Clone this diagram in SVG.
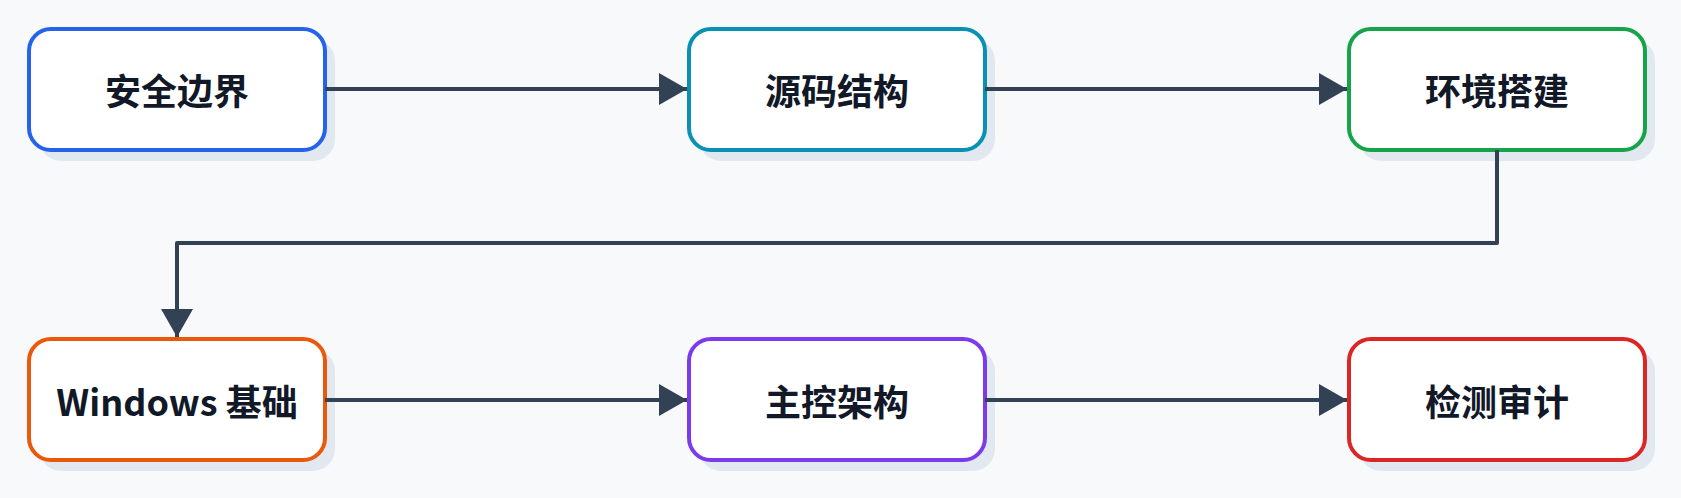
<svg xmlns="http://www.w3.org/2000/svg" width="1681" height="498" viewBox="0 0 1681 498">
<style>
.sh{fill:#e2e8f0}
.bx{fill:#fff;stroke-width:4}
.t{font-family:"Noto Sans CJK SC","Noto Sans",sans-serif;font-weight:bold;font-size:36px;fill:#111827;text-anchor:middle;dominant-baseline:central}
.c{fill:none;stroke:#334155;stroke-width:4;stroke-linejoin:round}
</style>
<defs>
<marker id="a" markerWidth="8" markerHeight="8" refX="7" refY="4" orient="auto" markerUnits="strokeWidth"><path d="M0,0L7,4L0,8Z" fill="#334155"/></marker>
</defs>
<rect width="1681" height="498" fill="#f8f9fb"/>
<g id="n1"><rect class="sh" x="39" y="39" width="296" height="122" rx="22"/><rect class="bx" x="29" y="29" width="296" height="121" rx="22" stroke="#2563eb"/><text class="t" x="177" y="89">安全边界</text></g>
<g id="n2"><rect class="sh" x="699" y="39" width="296" height="122" rx="22"/><rect class="bx" x="689" y="29" width="296" height="121" rx="22" stroke="#0891b2"/><text class="t" x="837" y="89">源码结构</text></g>
<g id="n3"><rect class="sh" x="1359" y="39" width="296" height="122" rx="22"/><rect class="bx" x="1349" y="29" width="296" height="121" rx="22" stroke="#16a34a"/><text class="t" x="1497" y="89">环境搭建</text></g>
<g id="n4"><rect class="sh" x="39" y="349" width="296" height="122" rx="22"/><rect class="bx" x="29" y="339" width="296" height="121" rx="22" stroke="#ea580c"/><text class="t" x="177" y="400">Windows 基础</text></g>
<g id="n5"><rect class="sh" x="699" y="349" width="296" height="122" rx="22"/><rect class="bx" x="689" y="339" width="296" height="121" rx="22" stroke="#7c3aed"/><text class="t" x="837" y="400">主控架构</text></g>
<g id="n6"><rect class="sh" x="1359" y="349" width="296" height="122" rx="22"/><rect class="bx" x="1349" y="339" width="296" height="121" rx="22" stroke="#dc2626"/><text class="t" x="1497" y="400">检测审计</text></g>
<g id="connectors">
<path class="c" d="M325,89H687" marker-end="url(#a)"/>
<path class="c" d="M985,89H1347" marker-end="url(#a)"/>
<path class="c" d="M1497,150V243H177V337" marker-end="url(#a)"/>
<path class="c" d="M325,400H687" marker-end="url(#a)"/>
<path class="c" d="M985,400H1347" marker-end="url(#a)"/>
</g>
</svg>
